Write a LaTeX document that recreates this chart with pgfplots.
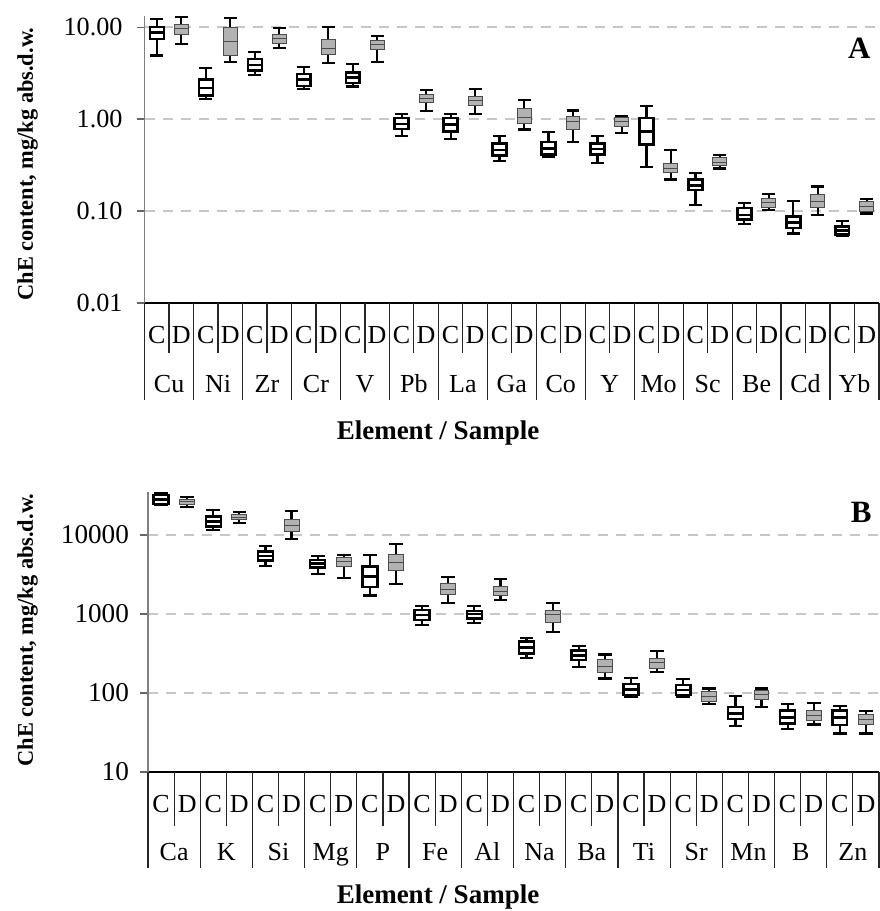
\documentclass[border=0pt]{standalone}
\usepackage{pgfplots}
\pgfplotsset{compat=1.18}
\usepackage{pgfplotstable}
\usepackage{fontspec}
\setmainfont{Liberation Serif}

% Panel A, sample C
\pgfplotstableread{
el lw lq med uq uw
Cu 4.90 7.40 8.75 10.1 12.3
Ni 1.65 1.81 2.17 2.68 3.58
Zr 3.01 3.38 3.90 4.49 5.31
Cr 2.12 2.30 2.68 3.11 3.67
V  2.26 2.46 2.84 3.22 3.96
Pb 0.65 0.78 0.89 1.03 1.13
La 0.61 0.73 0.87 1.03 1.14
Ga 0.35 0.40 0.46 0.54 0.65
Co 0.39 0.41 0.48 0.56 0.72
Y  0.33 0.41 0.47 0.54 0.65
Mo 0.30 0.53 0.73 1.03 1.40
Sc 0.117 0.17 0.19 0.22 0.26
Be 0.073 0.081 0.091 0.108 0.122
Cd 0.057 0.065 0.075 0.0875 0.129
Yb 0.054 0.0553 0.0617 0.068 0.0785
}\tblAC
% Panel A, sample D
\pgfplotstableread{
el lw lq med uq uw
Cu 6.5 8.4 9.6 10.8 12.8
Ni 4.17 4.88 6.93 10.0 12.5
Zr 5.91 6.70 7.47 8.26 9.75
Cr 4.06 5.00 5.91 7.28 10.0
V  4.20 5.67 6.43 7.16 8.05
Pb 1.23 1.52 1.68 1.84 2.08
La 1.14 1.40 1.58 1.76 2.14
Ga 0.77 0.89 1.05 1.29 1.62
Co 0.56 0.77 0.94 1.07 1.24
Y  0.70 0.83 0.94 1.05 1.09
Mo 0.22 0.26 0.29 0.33 0.46
Sc 0.29 0.31 0.34 0.38 0.41
Be 0.103 0.108 0.124 0.138 0.154
Cd 0.091 0.108 0.127 0.151 0.185
Yb 0.094 0.099 0.112 0.127 0.135
}\tblAD
% Panel B, sample C
\pgfplotstableread{
el lw lq med uq uw
Ca 24000 24700 28300 32100 34000
K  11570 12750 14750 17060 20700
Si 4050 4730 5420 6150 7330
Mg 3210 3900 4380 4830 5420
P  1710 2180 2970 3970 5580
Fe 726 840 972 1120 1260
Al 776 880 1000 1100 1260
Na 280 318 378 447 492
Ba 215 262 300 344 397
Ti 90 94.4 111 130 156
Sr 88 94 109 126 150
Mn 38.6 46.5 55.3 67 92.5
B  34.7 41.3 49.2 59.7 72
Zn 30.8 39.4 48.7 59.7 68.4
}\tblBC
% Panel B, sample D
\pgfplotstableread{
el lw lq med uq uw
Ca 22400 24400 26400 28550 30600
K  14320 15490 16740 17920 19360
Si 8810 11020 13000 15490 20140
Mg 2880 3970 4600 5210 5580
P  2400 3540 4510 5690 7620
Fe 1390 1740 2050 2440 2970
Al 1500 1690 1950 2220 2770
Na 597 776 972 1120 1365
Ba 153 181 215 262 308
Ti 184 205 242 275 344
Sr 72 77.6 90 104 114
Mn 66 83 96 109 114
B  40 44.7 51.6 59.7 74
Zn 30.8 40.5 46.5 52.7 59.7
}\tblBD

\pgfplotsset{
  whisk/.style={solid, draw=black, line width=1.1pt, line cap=rect, mark=none},
  boxC/.style={solid, draw=black, line width=1.2pt, fill=white, line join=miter, mark=none},
  medC/.style={solid, draw=black, line width=1.2pt, mark=none},
  boxD/.style={solid, draw=black!70, line width=0.5pt, fill=black!30, line join=miter, mark=none},
  medD/.style={solid, draw=black!70, line width=0.5pt, mark=none},
}

% #1 table, #2 row, #3 C or D, #4 centre position (expression)
\newcommand\boxrow[4]{%
  \pgfplotstablegetelem{#2}{lw}\of#1\edef\bLW{\pgfplotsretval}%
  \pgfplotstablegetelem{#2}{lq}\of#1\edef\bLQ{\pgfplotsretval}%
  \pgfplotstablegetelem{#2}{med}\of#1\edef\bMD{\pgfplotsretval}%
  \pgfplotstablegetelem{#2}{uq}\of#1\edef\bUQ{\pgfplotsretval}%
  \pgfplotstablegetelem{#2}{uw}\of#1\edef\bUW{\pgfplotsretval}%
  \pgfmathsetmacro\bX{#4}%
  \pgfmathsetmacro\bXa{\bX-0.285}%
  \pgfmathsetmacro\bXb{\bX+0.285}%
  \pgfmathsetmacro\bCa{\bX-0.22}%
  \pgfmathsetmacro\bCb{\bX+0.22}%
  \edef\bCmd{%
    \noexpand\addplot[whisk] coordinates {(\bX,\bLW) (\bX,\bUW)};
    \noexpand\addplot[whisk] coordinates {(\bCa,\bLW) (\bCb,\bLW)};
    \noexpand\addplot[whisk] coordinates {(\bCa,\bUW) (\bCb,\bUW)};
    \noexpand\addplot[box#3] coordinates {(\bXa,\bLQ) (\bXb,\bLQ) (\bXb,\bUQ) (\bXa,\bUQ)} --cycle;
    \noexpand\addplot[med#3] coordinates {(\bXa,\bMD) (\bXb,\bMD)};
  }%
  \bCmd
}

\newcommand\la[1]{\rule{0pt}{10pt}\makebox[12.24pt]{C}\makebox[12.24pt]{D}\llap{\makebox[24.48pt]{\raisebox{-24.5pt}[0pt][0pt]{#1}}}}
\newcommand\lb[1]{\rule{0pt}{10pt}\makebox[13.07pt]{C}\makebox[13.07pt]{D}\llap{\makebox[26.14pt]{\raisebox{-24pt}[0pt][0pt]{#1}}}}

\pgfplotsset{
  common/.style={
    scale only axis, clip=false,
    axis x line*=bottom, axis y line*=left,
    x axis line style={black, line width=0.8pt, -},
    y axis line style={black!50, line width=0.6pt, -},
    yminorticks=false,
    tick align=outside, major tick length=4pt,
    ytick style={black!60, line width=0.6pt},
    xtick style={draw=none},
    xticklabel style={anchor=north, inner sep=0pt, font=\fontsize{13}{15}\selectfont},
    ymajorgrids,
    major grid style={black!22, line width=1pt, dash pattern=on 5pt off 4pt},
  }
}

\begin{document}
\begin{tikzpicture}
\useasboundingbox (0pt,0pt) rectangle (439.5pt,455.5pt);

% ---------------- Panel A ----------------
\begin{axis}[common,
  at={(72.3pt,304pt)}, anchor=south west,
  width=367.2pt, height=143.5pt,
  ymode=log, ymin=0.01, ymax=13.2, xmin=0, xmax=30,
  ytick={0.01,0.1,1,10}, yticklabels={0.01,0.10,1.00,10.00},
  yticklabel style={font=\fontsize{13.1}{15}\selectfont, xshift=-3.5pt},
  xtick={1,3,...,29},
  xticklabels={{\la{Cu}},{\la{Ni}},{\la{Zr}},{\la{Cr}},{\la{V}},{\la{Pb}},{\la{La}},{\la{Ga}},{\la{Co}},{\la{Y}},{\la{Mo}},{\la{Sc}},{\la{Be}},{\la{Cd}},{\la{Yb}}},
  xticklabel style={yshift=-6pt},
]
\pgfplotsinvokeforeach{0,...,14}{\boxrow{\tblAC}{#1}{C}{2*#1+0.5}}
\pgfplotsinvokeforeach{0,...,14}{\boxrow{\tblAD}{#1}{D}{2*#1+1.5}}
\pgfplotsinvokeforeach{0,2,...,30}{\draw[black!85, line width=0.6pt] (axis cs:#1,0.01) -- ++(0pt,-48.5pt);}
\pgfplotsinvokeforeach{1,3,...,29}{\draw[black!85, line width=0.6pt] (axis cs:#1,0.01) -- ++(0pt,-25pt);}
\end{axis}

% ---------------- Panel B ----------------
\begin{axis}[common,
  at={(74pt,69.5pt)}, anchor=south west,
  width=365.5pt, height=140pt,
  ymode=log, ymin=10, ymax=35000, xmin=0, xmax=28,
  ytick={10,100,1000,10000}, yticklabels={10,100,1000,10000},
  yticklabel style={font=\fontsize{13.6}{15}\selectfont, xshift=-2pt},
  xtick={1,3,...,27},
  xticklabels={{\lb{Ca}},{\lb{K}},{\lb{Si}},{\lb{Mg}},{\lb{P}},{\lb{Fe}},{\lb{Al}},{\lb{Na}},{\lb{Ba}},{\lb{Ti}},{\lb{Sr}},{\lb{Mn}},{\lb{B}},{\lb{Zn}}},
  xticklabel style={yshift=-6pt},
]
\pgfplotsinvokeforeach{0,...,13}{\boxrow{\tblBC}{#1}{C}{2*#1+0.5}}
\pgfplotsinvokeforeach{0,...,13}{\boxrow{\tblBD}{#1}{D}{2*#1+1.5}}
\pgfplotsinvokeforeach{0,2,...,28}{\draw[black!85, line width=0.6pt] (axis cs:#1,10) -- ++(0pt,-48pt);}
\pgfplotsinvokeforeach{1,3,...,27}{\draw[black!85, line width=0.6pt] (axis cs:#1,10) -- ++(0pt,-27pt);}
\end{axis}

% ---------------- labels ----------------
\node[rotate=90, anchor=base, inner sep=0pt, font=\bfseries\fontsize{11.2}{13}\selectfont] at (16.5pt,373.5pt) {ChE content, mg/kg abs.d.w.};
\node[rotate=90, anchor=base, inner sep=0pt, font=\bfseries\fontsize{11.2}{13}\selectfont] at (16.5pt,140.5pt) {ChE content, mg/kg abs.d.w.};
\node[anchor=base, inner sep=0pt, font=\bfseries\fontsize{13.5}{15}\selectfont] at (219pt,235.5pt) {Element / Sample};
\node[anchor=base, inner sep=0pt, font=\bfseries\fontsize{13.5}{15}\selectfont] at (219pt,3.5pt) {Element / Sample};
\node[anchor=base east, inner sep=0pt, font=\bfseries\fontsize{15.5}{17}\selectfont] at (435.5pt,426pt) {A};
\node[anchor=base east, inner sep=0pt, font=\bfseries\fontsize{15.5}{17}\selectfont] at (436pt,194pt) {B};
\end{tikzpicture}
\end{document}
